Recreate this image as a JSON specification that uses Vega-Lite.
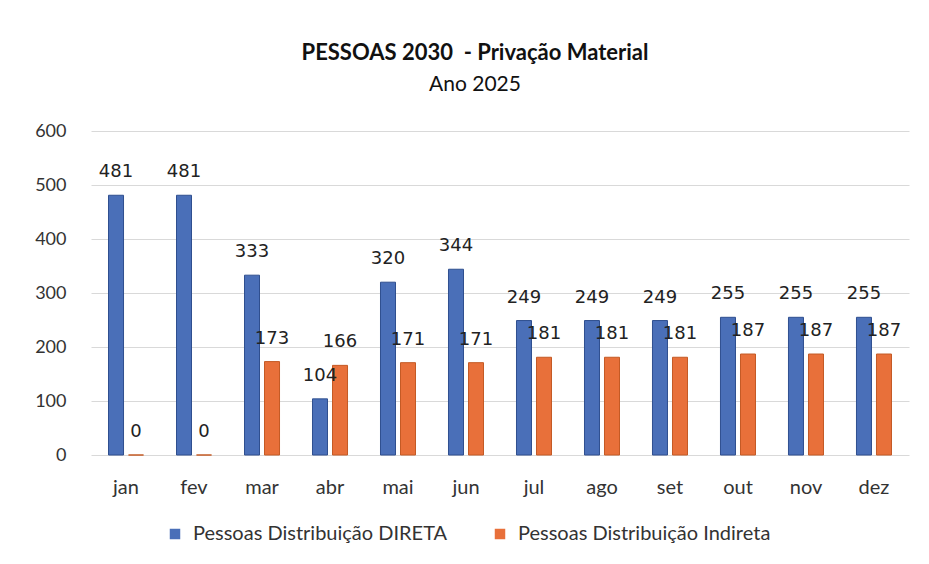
{
  "$schema": "https://vega.github.io/schema/vega-lite/v6.json",
  "width": 818,
  "height": 324,
  "autosize": {"type": "none"},
  "padding": {"left": 91, "top": 131, "right": 20, "bottom": 109},
  "background": "white",
  "title": {
    "text": "PESSOAS 2030\u00a0 - Privação Material",
    "subtitle": "Ano 2025",
    "anchor": "middle",
    "dx": -25,
    "offset": 26,
    "font": "Lato",
    "fontSize": 22,
    "fontWeight": "bold",
    "color": "#111111",
    "subtitleFont": "Lato",
    "subtitleFontSize": 21,
    "subtitleColor": "#111111",
    "subtitlePadding": 9
  },
  "data": {
    "values": [
      {"mes": "jan", "serie": "Pessoas Distribuição DIRETA", "valor": 481},
      {"mes": "jan", "serie": "Pessoas Distribuição Indireta", "valor": 0},
      {"mes": "fev", "serie": "Pessoas Distribuição DIRETA", "valor": 481},
      {"mes": "fev", "serie": "Pessoas Distribuição Indireta", "valor": 0},
      {"mes": "mar", "serie": "Pessoas Distribuição DIRETA", "valor": 333},
      {"mes": "mar", "serie": "Pessoas Distribuição Indireta", "valor": 173},
      {"mes": "abr", "serie": "Pessoas Distribuição DIRETA", "valor": 104},
      {"mes": "abr", "serie": "Pessoas Distribuição Indireta", "valor": 166},
      {"mes": "mai", "serie": "Pessoas Distribuição DIRETA", "valor": 320},
      {"mes": "mai", "serie": "Pessoas Distribuição Indireta", "valor": 171},
      {"mes": "jun", "serie": "Pessoas Distribuição DIRETA", "valor": 344},
      {"mes": "jun", "serie": "Pessoas Distribuição Indireta", "valor": 171},
      {"mes": "jul", "serie": "Pessoas Distribuição DIRETA", "valor": 249},
      {"mes": "jul", "serie": "Pessoas Distribuição Indireta", "valor": 181},
      {"mes": "ago", "serie": "Pessoas Distribuição DIRETA", "valor": 249},
      {"mes": "ago", "serie": "Pessoas Distribuição Indireta", "valor": 181},
      {"mes": "set", "serie": "Pessoas Distribuição DIRETA", "valor": 249},
      {"mes": "set", "serie": "Pessoas Distribuição Indireta", "valor": 181},
      {"mes": "out", "serie": "Pessoas Distribuição DIRETA", "valor": 255},
      {"mes": "out", "serie": "Pessoas Distribuição Indireta", "valor": 187},
      {"mes": "nov", "serie": "Pessoas Distribuição DIRETA", "valor": 255},
      {"mes": "nov", "serie": "Pessoas Distribuição Indireta", "valor": 187},
      {"mes": "dez", "serie": "Pessoas Distribuição DIRETA", "valor": 255},
      {"mes": "dez", "serie": "Pessoas Distribuição Indireta", "valor": 187}
    ]
  },
  "encoding": {
    "x": {
      "field": "mes",
      "type": "nominal",
      "sort": ["jan","fev","mar","abr","mai","jun","jul","ago","set","out","nov","dez"],
      "scale": {"paddingInner": 0.485, "paddingOuter": 0.2575},
      "axis": {
        "title": null,
        "labelAngle": 0,
        "labelFont": "Lato",
        "labelFontSize": 20,
        "labelColor": "#333333",
        "labelPadding": 22,
        "ticks": false,
        "domain": false
      }
    },
    "xOffset": {
      "field": "serie",
      "type": "nominal",
      "scale": {"paddingInner": 0.25, "paddingOuter": 0}
    },
    "y": {
      "field": "valor",
      "type": "quantitative",
      "scale": {"domain": [0, 600]},
      "axis": {
        "title": null,
        "values": [0, 100, 200, 300, 400, 500, 600],
        "labelFont": "Lato",
        "labelFontSize": 18,
        "labelColor": "#333333",
        "labelPadding": 25,
        "ticks": false,
        "domain": false,
        "gridColor": "#d9d9d9",
        "gridWidth": 1
      }
    }
  },
  "layer": [
    {
      "mark": {"type": "bar", "strokeWidth": 1},
      "encoding": {
        "color": {
          "field": "serie",
          "type": "nominal",
          "scale": {
            "domain": ["Pessoas Distribuição DIRETA", "Pessoas Distribuição Indireta"],
            "range": ["#4a6fb8", "#e8703a"]
          },
          "legend": {
            "title": null,
            "orient": "none",
            "legendX": 74,
            "legendY": 393,
            "direction": "horizontal",
            "symbolType": "square",
            "symbolSize": 110,
            "symbolStrokeWidth": 0,
            "labelFont": "Lato",
            "labelFontSize": 20,
            "labelColor": "#333333",
            "labelOffset": 8,
            "columnPadding": 42,
            "labelLimit": 400
          }
        },
        "stroke": {
          "field": "serie",
          "type": "nominal",
          "scale": {
            "domain": ["Pessoas Distribuição DIRETA", "Pessoas Distribuição Indireta"],
            "range": ["#2f4f8f", "#c45a25"]
          },
          "legend": null
        }
      }
    },
    {
      "mark": {
        "type": "text",
        "baseline": "bottom",
        "dy": -14,
        "font": "DejaVu Sans",
        "fontSize": 18,
        "color": "#222222"
      },
      "encoding": {
        "text": {"field": "valor", "type": "quantitative"}
      }
    }
  ],
  "config": {
    "view": {"stroke": null}
  }
}
